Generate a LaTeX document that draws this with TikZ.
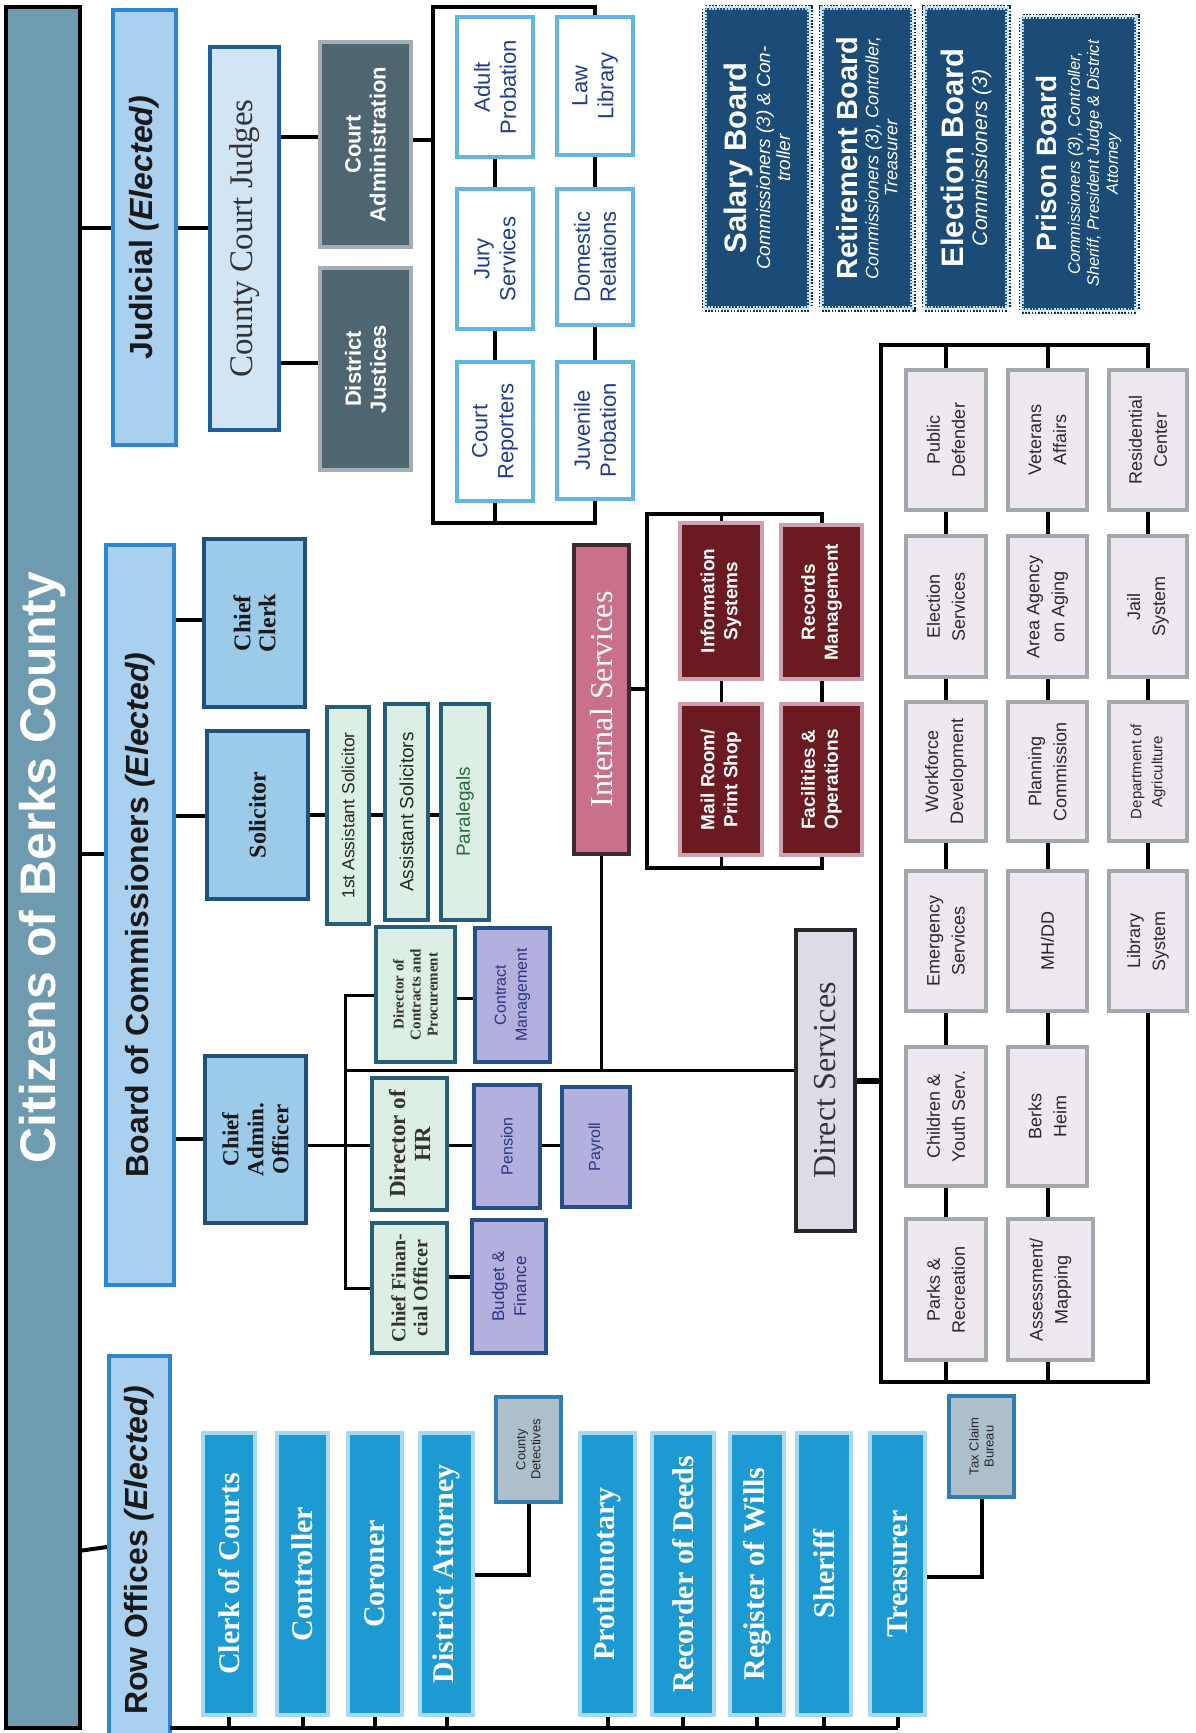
\documentclass[tikz,border=0pt]{standalone}
\usepackage{fontspec}
\setmainfont{Liberation Serif}
\setsansfont{Liberation Sans}
\usetikzlibrary{fit}
\newcommand\fs[2]{\fontsize{#1}{#2}\selectfont}
\newcommand\obox[8]{%
  \coordinate (#3-p) at (#4,#5);
  \coordinate (#3-q) at (#6,#7);
  \node[#1, inner sep=0pt, fit=(#3-p)(#3-q)] (#3) {};
  \node[txtzero, #2] (#3-t) at (#3.center) {#8};}
\definecolor{citF}{HTML}{6E9BB0}
\definecolor{lvF}{HTML}{A9D0EE}
\definecolor{lvD}{HTML}{2E86CF}
\definecolor{ccjF}{HTML}{D2E5F5}
\definecolor{ccjD}{HTML}{1C5E9E}
\definecolor{caF}{HTML}{4D6671}
\definecolor{caD}{HTML}{A3ADB2}
\definecolor{jbD}{HTML}{62B4E2}
\definecolor{jbT}{HTML}{1D3D8E}
\definecolor{brdF}{HTML}{1B4C78}
\definecolor{brdDot}{HTML}{B8E0F6}
\definecolor{ofF}{HTML}{9CCBE9}
\definecolor{ofD}{HTML}{22507A}
\definecolor{grF}{HTML}{DCEFE4}
\definecolor{grD}{HTML}{265E7A}
\definecolor{grT}{HTML}{2A6A40}
\definecolor{lavF}{HTML}{B4B0DE}
\definecolor{lavD}{HTML}{23508A}
\definecolor{lavT}{HTML}{2A3580}
\definecolor{isF}{HTML}{C9708A}
\definecolor{isD}{HTML}{3B2B2E}
\definecolor{inF}{HTML}{6A1A20}
\definecolor{inD}{HTML}{CF9FB2}
\definecolor{dsF}{HTML}{DCDCE6}
\definecolor{dbF}{HTML}{EEE8F0}
\definecolor{dbD}{HTML}{A3A8AD}
\definecolor{dbT}{HTML}{2E2629}
\definecolor{roF}{HTML}{1E9AD2}
\definecolor{roD}{HTML}{A8DAF2}
\definecolor{smF}{HTML}{AEBFCC}
\definecolor{smD}{HTML}{2F7FB5}
\begin{document}
\begin{tikzpicture}[x=1pt,y=-1pt,
  txtzero/.style={rotate=90, align=center, inner sep=0pt},
  ln/.style={line width=4pt, draw=black},
  tn/.style={line width=3pt, draw=black},
  bCit/.style={fill=citF, draw=black, line width=4pt},
  tCit/.style={text=white, font=\sffamily\bfseries\fs{50}{56}},
  bLv/.style={fill=lvF, draw=lvD, line width=4pt},
  tLv/.style={font=\sffamily\bfseries\fs{32}{36}, text=black!90},
  bCcj/.style={fill=ccjF, draw=ccjD, line width=4pt},
  tCcj/.style={font=\fs{33}{36}, text=black!80},
  bCa/.style={fill=caF, draw=caD, line width=4pt},
  tCa/.style={font=\sffamily\bfseries\fs{22}{25}, text=white},
  bJb/.style={fill=white, draw=jbD, line width=3.5pt},
  tJb/.style={font=\sffamily\fs{22}{26}, text=jbT},
  bBrd/.style={fill=brdF, draw=brdDot, line width=4pt, dash pattern=on 1.6pt off 1.6pt, preaction={draw=brdF!60!black, line width=7pt}},
  tBrd/.style={text=white, font=\sffamily\itshape\fs{19}{20}},
  bOf/.style={fill=ofF, draw=ofD, line width=4.5pt},
  tOf/.style={font=\bfseries\fs{24}{25}, text=black!90},
  bGr/.style={fill=grF, draw=grD, line width=4pt},
  tGr/.style={font=\sffamily\fs{19}{21}, text=black!85},
  tDir/.style={font=\bfseries\fs{15}{17}, text=black!80},
  bLav/.style={fill=lavF, draw=lavD, line width=4pt},
  tLav/.style={font=\sffamily\fs{16}{21}, text=lavT},
  bIs/.style={fill=isF, draw=isD, line width=4pt},
  tIs/.style={font=\fs{32}{34}, text=white},
  bIn/.style={fill=inF, draw=inD, line width=4pt},
  tIn/.style={font=\sffamily\bfseries\fs{19}{23}, text=white},
  bDs/.style={fill=dsF, draw=black!85, line width=4.5pt},
  tDs/.style={font=\fs{32}{34}, text=black!80},
  bDb/.style={fill=dbF, draw=dbD, line width=4.5pt},
  tDb/.style={font=\sffamily\fs{18}{25}, text=dbT},
  bRo/.style={fill=roF, draw=roD, line width=4pt},
  tRo/.style={font=\bfseries\fs{30}{32}, text=white},
  bSm/.style={fill=smF, draw=smD, line width=4pt},
  tSm/.style={font=\sffamily\fs{13}{15}, text=black!85}]
\useasboundingbox (0,0) rectangle (1196,1733);

% ---------- level 1 and 2 ----------
\obox{bCit}{tCit}{cit}{6}{7}{80}{1728}{Citizens of Berks County}
\obox{bLv}{tLv}{jud}{113}{10}{176}{445}{Judicial \textit{(Elected)}}
\obox{bLv}{tLv}{board}{106}{545}{174}{1285}{Board of Commissioners \textit{(Elected)}}
\obox{bLv}{tLv}{rowbar}{109}{1356}{170}{1745}{Row Offices \textit{(Elected)}}

% ---------- judicial ----------
\obox{bCcj}{tCcj}{ccj}{210}{47}{279}{430}{County Court Judges}
\obox{bCa}{tCa}{ca}{320}{42}{411}{247}{Court\\Administration}
\obox{bCa}{tCa}{dj}{320}{268}{411}{470}{District\\Justices}
\obox{bJb}{tJb}{ap}{457}{17}{533}{157}{Adult\\Probation}
\obox{bJb}{tJb}{js}{457}{189}{533}{329}{Jury\\Services}
\obox{bJb}{tJb}{cr}{457}{362}{533}{501}{Court\\Reporters}
\obox{bJb}{tJb}{ll}{557}{17}{633}{155}{Law\\Library}
\obox{bJb}{tJb}{dr}{557}{189}{633}{325}{Domestic\\Relations}
\obox{bJb}{tJb}{jp}{557}{362}{633}{499}{Juvenile\\Probation}

% ---------- boards ----------
\obox{bBrd}{tBrd}{sb}{705}{8}{809}{308}{{\upshape\bfseries\fs{31}{33}Salary Board}\\[3pt]Commissioners (3) \& Con-\\troller}
\obox{bBrd}{tBrd, font=\sffamily\itshape\fs{18}{19}}{rb}{822}{8}{912}{308}{{\upshape\bfseries\fs{29}{31}Retirement Board}\\[2pt]Commissioners (3), Controller,\\Treasurer}
\obox{bBrd}{tBrd, font=\sffamily\itshape\fs{21}{22}}{eb}{925}{8}{1007}{308}{{\upshape\bfseries\fs{31}{33}Election Board}\\[2pt]Commissioners (3)}
\obox{bBrd}{tBrd, font=\sffamily\itshape\fs{16.5}{19}}{pb}{1022}{17}{1136}{310}{{\upshape\bfseries\fs{28}{30}Prison Board}\\[4pt]Commissioners (3), Controller,\\Sheriff, President Judge \& District\\Attorney}

% ---------- commissioners ----------
\obox{bOf}{tOf}{cc}{204}{539}{305}{707}{Chief\\Clerk}
\obox{bOf}{tOf}{sol}{207}{731}{308}{899}{Solicitor}
\obox{bGr}{tGr, font=\sffamily\fs{17.5}{21}}{asa}{327}{707}{369}{924}{1st Assistant Solicitor}
\obox{bGr}{tGr}{asb}{385}{704}{428}{920}{Assistant Solicitors}
\obox{bGr}{tGr, text=grT}{para}{441}{704}{489}{920}{Paralegals}
\obox{bOf}{tOf, font=\bfseries\fs{23}{25}}{cao}{205}{1056}{306}{1223}{Chief\\Admin.\\Officer}
\obox{bGr}{tDir}{dcp}{376}{927}{455}{1062}{Director of\\Contracts and\\Procurement}
\obox{bLav}{tLav}{cm}{475}{928}{550}{1062}{Contract\\Management}
\obox{bGr}{tDir, font=\bfseries\fs{23}{25}}{dhr}{372}{1078}{447}{1210}{Director of\\HR}
\obox{bLav}{tLav}{pen}{474}{1085}{540}{1208}{Pension}
\obox{bLav}{tLav}{pay}{562}{1087}{630}{1207}{Payroll}
\obox{bGr}{tDir, font=\bfseries\fs{20}{22}}{cfo}{372}{1223}{447}{1353}{Chief Finan-\\cial Officer}
\obox{bLav}{tLav, font=\sffamily\fs{17}{22}}{bf}{472}{1220}{546}{1353}{Budget \&\\Finance}

% ---------- internal services ----------
\obox{bIs}{tIs}{is}{574}{545}{629}{854}{Internal Services}
\obox{bIn}{tIn}{info}{680}{523}{762}{679}{Information\\Systems}
\obox{bIn}{tIn}{rec}{781}{525}{862}{679}{Records\\Management}
\obox{bIn}{tIn}{mail}{680}{704}{762}{855}{Mail Room/\\Print Shop}
\obox{bIn}{tIn}{fac}{781}{704}{862}{855}{Facilities \&\\Operations}

% ---------- direct services ----------
\obox{bDs}{tDs}{ds}{796}{930}{855}{1231}{Direct Services}
\obox{bDb}{tDb}{pd}{906}{370}{986}{510}{Public\\Defender}
\obox{bDb}{tDb}{va}{1008}{370}{1087}{510}{Veterans\\Affairs}
\obox{bDb}{tDb}{rc}{1109}{370}{1187}{510}{Residential\\Center}
\obox{bDb}{tDb}{es}{906}{536}{986}{677}{Election\\Services}
\obox{bDb}{tDb}{aa}{1008}{536}{1087}{677}{Area Agency\\on Aging}
\obox{bDb}{tDb}{jail}{1109}{536}{1187}{677}{Jail\\System}
\obox{bDb}{tDb}{wf}{906}{702}{986}{841}{Workforce\\Development}
\obox{bDb}{tDb}{pc}{1008}{702}{1087}{841}{Planning\\Commission}
\obox{bDb}{tDb, font=\sffamily\fs{15}{21}}{agr}{1109}{702}{1187}{841}{Department of\\Agriculture}
\obox{bDb}{tDb}{em}{906}{871}{986}{1011}{Emergency\\Services}
\obox{bDb}{tDb}{mh}{1008}{871}{1087}{1011}{MH/DD}
\obox{bDb}{tDb}{lib}{1109}{871}{1187}{1011}{Library\\System}
\obox{bDb}{tDb}{cy}{906}{1047}{986}{1186}{Children \&\\Youth Serv.}
\obox{bDb}{tDb}{bh}{1008}{1047}{1087}{1186}{Berks\\Heim}
\obox{bDb}{tDb}{pr}{906}{1219}{986}{1360}{Parks \&\\Recreation}
\obox{bDb}{tDb}{am}{1008}{1219}{1093}{1360}{Assessment/\\Mapping}

% ---------- row offices ----------
\obox{bRo}{tRo}{cl}{203}{1433}{255}{1715}{Clerk of Courts}
\obox{bRo}{tRo}{ctl}{277}{1433}{328}{1715}{Controller}
\obox{bRo}{tRo}{cor}{348}{1433}{402}{1715}{Coroner}
\obox{bRo}{tRo}{da}{420}{1433}{473}{1715}{District Attorney}
\obox{bRo}{tRo}{pro}{580}{1433}{635}{1715}{Prothonotary}
\obox{bRo}{tRo}{rod}{652}{1433}{714}{1715}{Recorder of Deeds}
\obox{bRo}{tRo}{rw}{730}{1433}{784}{1715}{Register of Wills}
\obox{bRo}{tRo}{sh}{797}{1433}{851}{1715}{Sheriff}
\obox{bRo}{tRo}{tr}{870}{1433}{925}{1715}{Treasurer}
\obox{bSm}{tSm}{cdet}{496}{1397}{561}{1502}{County\\Detectives}
\obox{bSm}{tSm}{tcb}{949}{1396}{1014}{1497}{Tax Claim\\Bureau}

% ---------- connectors ----------
\draw[ln] (cit.east |- jud.west) -- (jud.west);
\draw[ln] (cit.east |- 0,854) -- (board.west |- 0,854);
\draw[ln] (cit.east |- rowbar.west) -- (rowbar.west |- 0,1547);
% judicial
\draw[ln] (jud.east) -- (ccj.west |- jud.east);
\draw[ln] (ccj.east |- 0,137) -- (ca.west |- 0,137);
\draw[ln] (ccj.east |- 0,363) -- (dj.west |- 0,363);
\coordinate (jtl) at (433,7);
\coordinate (jbl) at (433,523);
\draw[ln] (ca.east |- 0,140) -- (jtl |- 0,140);
\draw[ln] (ll.north) -- (ll.north |- jtl) -- (jtl) -- (jbl) -- (jp.south |- jbl) -- (jp.south);
\draw[ln] (cr.south) -- (cr.south |- jbl);
\draw[ln] (ap.south) -- (js.north);
\draw[ln] (js.south) -- (cr.north);
\draw[ln] (ll.south) -- (dr.north);
\draw[ln] (dr.south) -- (jp.north);
% commissioners
\draw[ln] (board.east |- 0,620) -- (cc.west |- 0,620);
\draw[ln] (board.east |- 0,816) -- (sol.west |- 0,816);
\draw[ln] (sol.east |- 0,815) -- (asa.west |- 0,815);
\draw[ln] (asa.east |- 0,815) -- (asb.west |- 0,815);
\draw[ln] (asb.east |- 0,815) -- (para.west |- 0,815);
\draw[ln] (board.east |- 0,1139) -- (cao.west |- 0,1139);
\draw[tn] (cao.east |- 0,1145) -- (dhr.west |- 0,1145);
\coordinate (sp1) at (345,995);
\coordinate (sp2) at (345,1288);
\coordinate (hy) at (345,1070);
\draw[tn] (dcp.west |- sp1) -- (sp1) -- (sp2) -- (cfo.west |- sp2);
\draw[tn] (dcp.east |- 0,998) -- (cm.west |- 0,998);
\draw[tn] (dhr.east |- 0,1145) -- (pen.west |- 0,1145);
\draw[tn] (pen.east |- 0,1145) -- (pay.west |- 0,1145);
\draw[ln] (cfo.east |- 0,1277) -- (bf.west |- 0,1277);
\draw[tn] (hy) -- (ds.west |- hy);
\draw[tn] (is.south) -- (is.south |- hy);
% internal services
\coordinate (itl) at (647,514);
\coordinate (ibl) at (647,868);
\draw[ln] (is.east |- 0,689) -- (itl |- 0,689);
\draw[ln] (rec.north) -- (rec.north |- itl) -- (itl) -- (ibl) -- (fac.south |- ibl) -- (fac.south);
\draw[tn] (info.north) -- (info.north |- itl);
\draw[tn] (info.south) -- (mail.north);
\draw[tn] (mail.south) -- (mail.south |- ibl);
\draw[ln] (rec.south) -- (fac.north);
% direct services
\coordinate (dtl) at (881,345);
\coordinate (dbl) at (881,1382);
\draw[line width=6pt] (ds.east) -- (dtl |- ds.east);
\draw[ln] (rc.north) -- (rc.north |- dtl) -- (dtl) -- (dbl) -- (lib.south |- dbl) -- (lib.south);
\draw[ln] (pd.north) -- (pd.north |- dtl);
\draw[ln] (va.north) -- (va.north |- dtl);
\draw[ln] (pd.south) -- (es.north);
\draw[ln] (es.south) -- (wf.north);
\draw[ln] (wf.south) -- (em.north);
\draw[ln] (em.south) -- (cy.north);
\draw[ln] (cy.south) -- (pr.north);
\draw[ln] (pr.south) -- (pr.south |- dbl);
\draw[ln] (va.south) -- (aa.north);
\draw[ln] (aa.south) -- (pc.north);
\draw[ln] (pc.south) -- (mh.north);
\draw[ln] (mh.south) -- (bh.north);
\draw[ln] (bh.south) -- (bh.south |- am.north);
\draw[ln] (am.south -| bh.south) -- (bh.south |- dbl);
\draw[ln] (rc.south) -- (jail.north);
\draw[ln] (jail.south) -- (agr.north);
\draw[ln] (agr.south) -- (lib.north);
% row offices
\coordinate (rby) at (170,1728);
\draw[ln] (rby) -- (tr.south |- rby);
\foreach \n in {cl,ctl,cor,da,pro,rod,rw,sh,tr}{\draw[ln] (\n.south) -- (\n.south |- rby);}
\draw[ln] (da.east |- 0,1575) -| (cdet.south);
\draw[ln] (tr.east |- 0,1577) -| (tcb.south);
\end{tikzpicture}
\end{document}
